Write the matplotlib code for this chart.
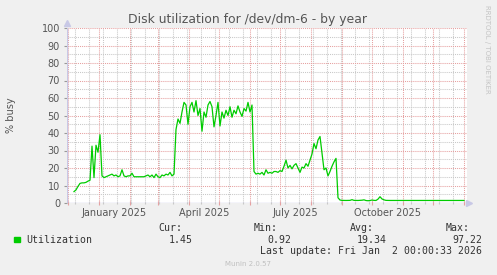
import numpy as np
import matplotlib
matplotlib.use("Agg")
import matplotlib.pyplot as plt
import matplotlib.dates as mdates

# Munin year graph, one value every 2 days (% busy)
first_day = "2024-12-07"
step_days = 2
busy = [
    # December 2024
    6.5, 7.5, 9.5, 11.2, 11.5, 11.5, 11.8, 12.5, 13.0, 32.5, 14.5, 33.0, 29.0, 39.0,
    # January - March 2025
    15.5, 14.5, 15.0, 15.5, 16.0, 16.5, 15.5, 16.0, 15.0, 15.5,
    19.0, 15.5, 15.0, 15.5, 15.5, 17.0, 15.0, 15.0, 15.0, 15.0,
    15.0, 15.0, 15.5, 16.0, 15.0, 16.0, 14.5, 16.5, 15.0, 14.5,
    16.0, 15.5, 16.5, 16.0, 17.5, 15.5, 16.5,
    # March - June 2025
    42.0, 48.0, 45.5, 52.0, 57.5, 56.0, 45.0, 55.0, 57.5, 52.0,
    58.5, 50.0, 54.0, 41.0, 52.0, 49.0, 56.0, 58.0, 55.0, 43.5,
    50.0, 57.5, 44.0, 52.0, 48.5, 53.0, 50.0, 55.0, 49.0, 53.0,
    51.0, 55.5, 52.0, 49.5, 54.0, 52.5, 57.5, 52.0, 56.0,
    # June - September 2025
    18.0, 16.5, 17.0, 16.5, 17.5, 16.0, 19.0, 17.0, 17.5, 17.0,
    18.0, 18.0, 17.5, 18.5, 18.0, 21.0, 24.5, 20.0, 21.5, 19.5,
    21.5, 22.5, 20.0, 17.5, 20.5, 20.0, 22.5, 21.0, 24.5, 28.0,
    34.0, 31.0, 36.0, 38.0, 28.5, 19.0, 20.0, 15.5, 18.0, 21.0,
    23.5, 25.5,
    # September 2025 - January 2026
    3.0, 1.7, 1.5, 1.45, 1.45, 1.45, 1.5, 1.9, 1.5, 1.45,
    1.45, 1.5, 1.6, 1.8, 1.4, 1.3, 1.4, 1.7, 1.5, 1.45,
    2.2, 3.6, 2.3, 1.8, 1.5, 1.45, 1.45, 1.45, 1.5, 1.45,
    1.45, 1.45, 1.4, 1.45, 1.45, 1.5, 1.45, 1.45, 1.45, 1.45,
    1.45, 1.45, 1.45, 1.5, 1.45, 1.45, 1.45, 1.45, 1.45, 1.45,
    1.45, 1.45, 1.45, 1.45, 1.45, 1.5, 1.45, 1.45, 1.45, 1.45,
    1.45, 1.45, 1.45, 1.45,
]

month_labels = ["January 2025", "April 2025", "July 2025", "October 2025"]
label_dates = ["2025-01-16", "2025-04-16", "2025-07-16", "2025-10-16"]

legend_name = "Utilization"
stats_head = ["Cur:", "Min:", "Avg:", "Max:"]
stats_vals = ["1.45", "0.92", "19.34", "97.22"]
last_update = "Last update: Fri Jan  2 00:00:33 2026"

W, H = 497, 275
GREEN = "#00cc00"
MGRID = "#e6a0a0"
GRID = "#c8c8c8"
AXIS = "#c8c8e6"
TXT = "#555555"


def fx(x):
    return x / W


def fy(y):
    return 1 - y / H


fig = plt.figure(figsize=(W / 100, H / 100), dpi=100, facecolor="#f0f0f0")
ax = fig.add_axes([fx(67), fy(203), 400 / W, 175 / H])
ax.set_facecolor("white")

days = np.datetime64(first_day) + np.arange(len(busy)) * step_days
x = mdates.date2num(days.astype("datetime64[D]").astype(object))
ax.plot(x, busy, color=GREEN, lw=0.9, zorder=5)

x0 = mdates.date2num(np.datetime64("2024-11-30").astype(object))
x1 = x0 + 400
ax.set_xlim(x0, x1)
ax.set_ylim(0, 100)

dots = (0, (1, 1))
months = [mdates.date2num(np.datetime64(f"{y}-{m:02d}-01").astype(object))
          for y, m in [(2024, 12)] + [(2025, m) for m in range(1, 13)] + [(2026, 1)]]
weeks = np.arange(mdates.date2num(np.datetime64("2024-12-08").astype(object)), x1, 14)
for w in weeks:
    ax.axvline(w, color=GRID, lw=0.75, ls=dots, zorder=1)
for v in range(5, 101, 10):
    ax.axhline(v, color=GRID, lw=0.75, ls=dots, zorder=1)
for m in months:
    ax.axvline(m, color=MGRID, lw=0.75, ls=dots, zorder=2)
for v in range(10, 101, 10):
    ax.axhline(v, color=MGRID, lw=0.75, ls=dots, zorder=2)

for s in ax.spines.values():
    s.set_visible(False)
ax.axhline(0, color=AXIS, lw=1, zorder=3)
ax.axvline(x0, color=AXIS, lw=1, zorder=3)
ax.plot([x1 + 2], [0], marker=">", ms=4, color=AXIS, clip_on=False, zorder=3)
ax.plot([x0], [103], marker="^", ms=4, color=AXIS, clip_on=False, zorder=3)

ax.set_xticks(months)
ax.set_xticklabels([])
ax.set_xticks(weeks, minor=True)
ax.tick_params(axis="x", which="major", color=MGRID, length=3, width=0.8, direction="inout")
ax.tick_params(axis="x", which="minor", color=GRID, length=2, width=0.8, direction="inout")
ax.set_yticks(range(0, 101, 10))
ax.set_yticklabels([str(v) for v in range(0, 101, 10)], fontsize=7, color=TXT)
ax.tick_params(axis="y", color="#999999", length=2, width=0.8, pad=3)

for lab, d in zip(month_labels, label_dates):
    xd = mdates.date2num(np.datetime64(d).astype(object))
    ax.text(xd, -5.5, lab, ha="center", va="center", fontsize=7, color=TXT, clip_on=False)

fig.text(fx(248), fy(19), "Disk utilization for /dev/dm-6 - by year",
         ha="center", va="center", fontsize=8.9, color=TXT)
fig.text(fx(11), fy(115), "% busy", rotation=90, ha="center", va="center",
         fontsize=7, color=TXT)
fig.text(fx(487), fy(5), "RRDTOOL / TOBI OETIKER", rotation=270, ha="center", va="top",
         fontsize=5, color="#c4c4c4")

# legend block
mono = "DejaVu Sans Mono"
fig.patches.append(plt.Rectangle((fx(14), fy(242)), 5.5 / W, 5.5 / H, transform=fig.transFigure,
                                 color=GREEN))
fig.text(fx(26), fy(240), legend_name, family=mono, fontsize=7.1, color="#333333", va="center")
for h, xr in zip(stats_head, [182, 278, 374, 470]):
    fig.text(fx(xr), fy(228), h, family=mono, fontsize=7.1, color="#333333",
             ha="right", va="center")
for v, xr in zip(stats_vals, [193, 291, 387, 482]):
    fig.text(fx(xr), fy(240), v, family=mono, fontsize=7.1, color="#333333",
             ha="right", va="center")
fig.text(fx(482), fy(251), last_update, family=mono, fontsize=7.1, color="#333333",
         ha="right", va="center")
fig.text(fx(248), fy(264), "Munin 2.0.57", fontsize=5, color="#c0c0c0",
         ha="center", va="center")

fig.savefig("out.png", dpi=100, facecolor=fig.get_facecolor())
